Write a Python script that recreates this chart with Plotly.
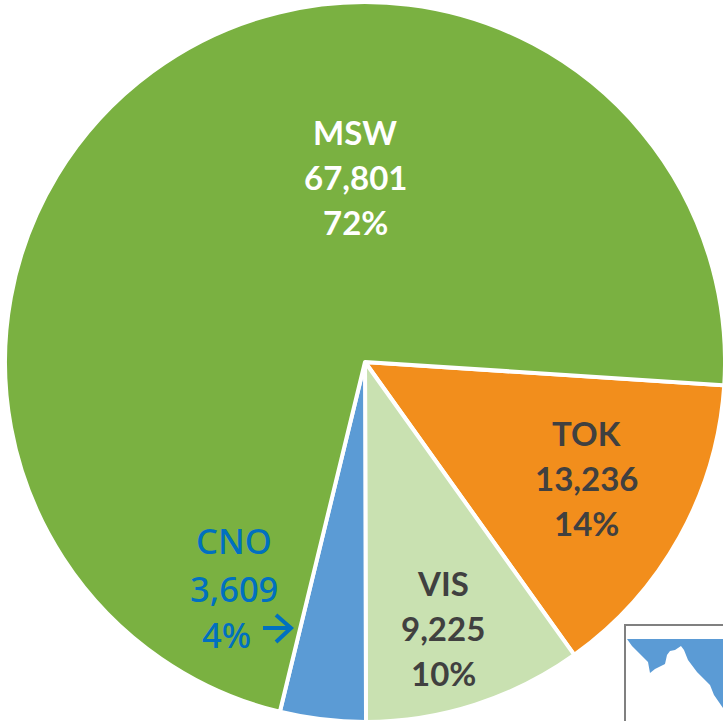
import plotly.graph_objects as go

# The figure is a little larger than the window so the pie and inset run off the page edge, as in the reference.
W, H = 740, 740

categories = ["TOK", "VIS", "CNO", "MSW"]
values = [13236, 9225, 3609, 67801]
value_labels = ["13,236", "9,225", "3,609", "67,801"]
percent_labels = ["14%", "10%", "4%", "72%"]
colors = ["#F28E1C", "#C9E1B1", "#5B9BD5", "#7AB141"]
rotation_deg = 93.7


def px(x):
    return x / W


def py(y):
    return 1 - y / H


fig = go.Figure(
    go.Pie(
        labels=categories,
        values=values,
        sort=False,
        direction="clockwise",
        rotation=rotation_deg,
        textinfo="none",
        hoverinfo="label+value+percent",
        marker=dict(colors=colors, line=dict(color="white", width=4)),
        domain=dict(x=[px(5), px(725)], y=[py(722), py(2)]),
        showlegend=False,
    )
)

label_style = {
    "TOK": dict(x=586, y=478, color="#404040", family="Lato", weight="bold", size=33),
    "VIS": dict(x=443, y=628, color="#404040", family="Lato", weight="bold", size=33),
    "CNO": dict(x=233.5, y=588, color="#0070C0", family="Noto Sans", weight=500, size=34.5),
    "MSW": dict(x=355, y=177, color="#FFFFFF", family="Lato", weight="bold", size=33),
}

for i, cat in enumerate(categories):
    s = label_style[cat]
    if cat == "CNO":
        rows = [(cat, s["x"], 540), (value_labels[i], s["x"], 588), (percent_labels[i], 227, 634)]
    else:
        rows = [
            (cat, s["x"], s["y"] - 45),
            (value_labels[i], s["x"], s["y"]),
            (percent_labels[i], s["x"], s["y"] + 45),
        ]
    for text, x, y in rows:
        fig.add_annotation(
            x=px(x), y=py(y), xref="paper", yref="paper",
            text=text, showarrow=False, xanchor="center", yanchor="middle",
            font=dict(family=s["family"], size=s["size"], color=s["color"], weight=s["weight"]),
        )


def path(points, close=False):
    d = "M " + " L ".join(f"{px(x):.5f},{py(y):.5f}" for x, y in points)
    return d + (" Z" if close else "")


# arrow next to the CNO label
for pts in ([(263, 628), (292, 628)], [(276, 615), (291, 628), (276, 642)]):
    fig.add_shape(type="path", xref="paper", yref="paper", path=path(pts),
                  line=dict(color="#0070C0", width=4))

# locator map inset, cut off by the page edge
fig.add_shape(type="rect", xref="paper", yref="paper",
              x0=px(625), x1=px(738), y0=py(625), y1=py(738),
              line=dict(color="#808080", width=2), fillcolor="white")
fig.add_shape(type="path", xref="paper", yref="paper",
              path=path([(627, 639), (632, 646), (640, 654), (648, 662), (650, 673), (655, 669),
                         (665, 664), (667, 655), (670, 651), (675, 650), (681, 646), (684, 650),
                         (688, 660), (697, 672), (710, 685), (714, 695), (723, 708), (725, 708), (725, 639)], True),
              line=dict(width=0), fillcolor="#5B9BD5")

fig.update_layout(
    width=W, height=H,
    margin=dict(l=0, r=0, t=0, b=0),
    paper_bgcolor="white",
)

fig.write_html(
    "out.html",
    config=dict(displayModeBar=False),
    post_script="document.documentElement.style.overflow='hidden';document.body.style.margin='0';document.body.style.overflow='hidden';",
)
